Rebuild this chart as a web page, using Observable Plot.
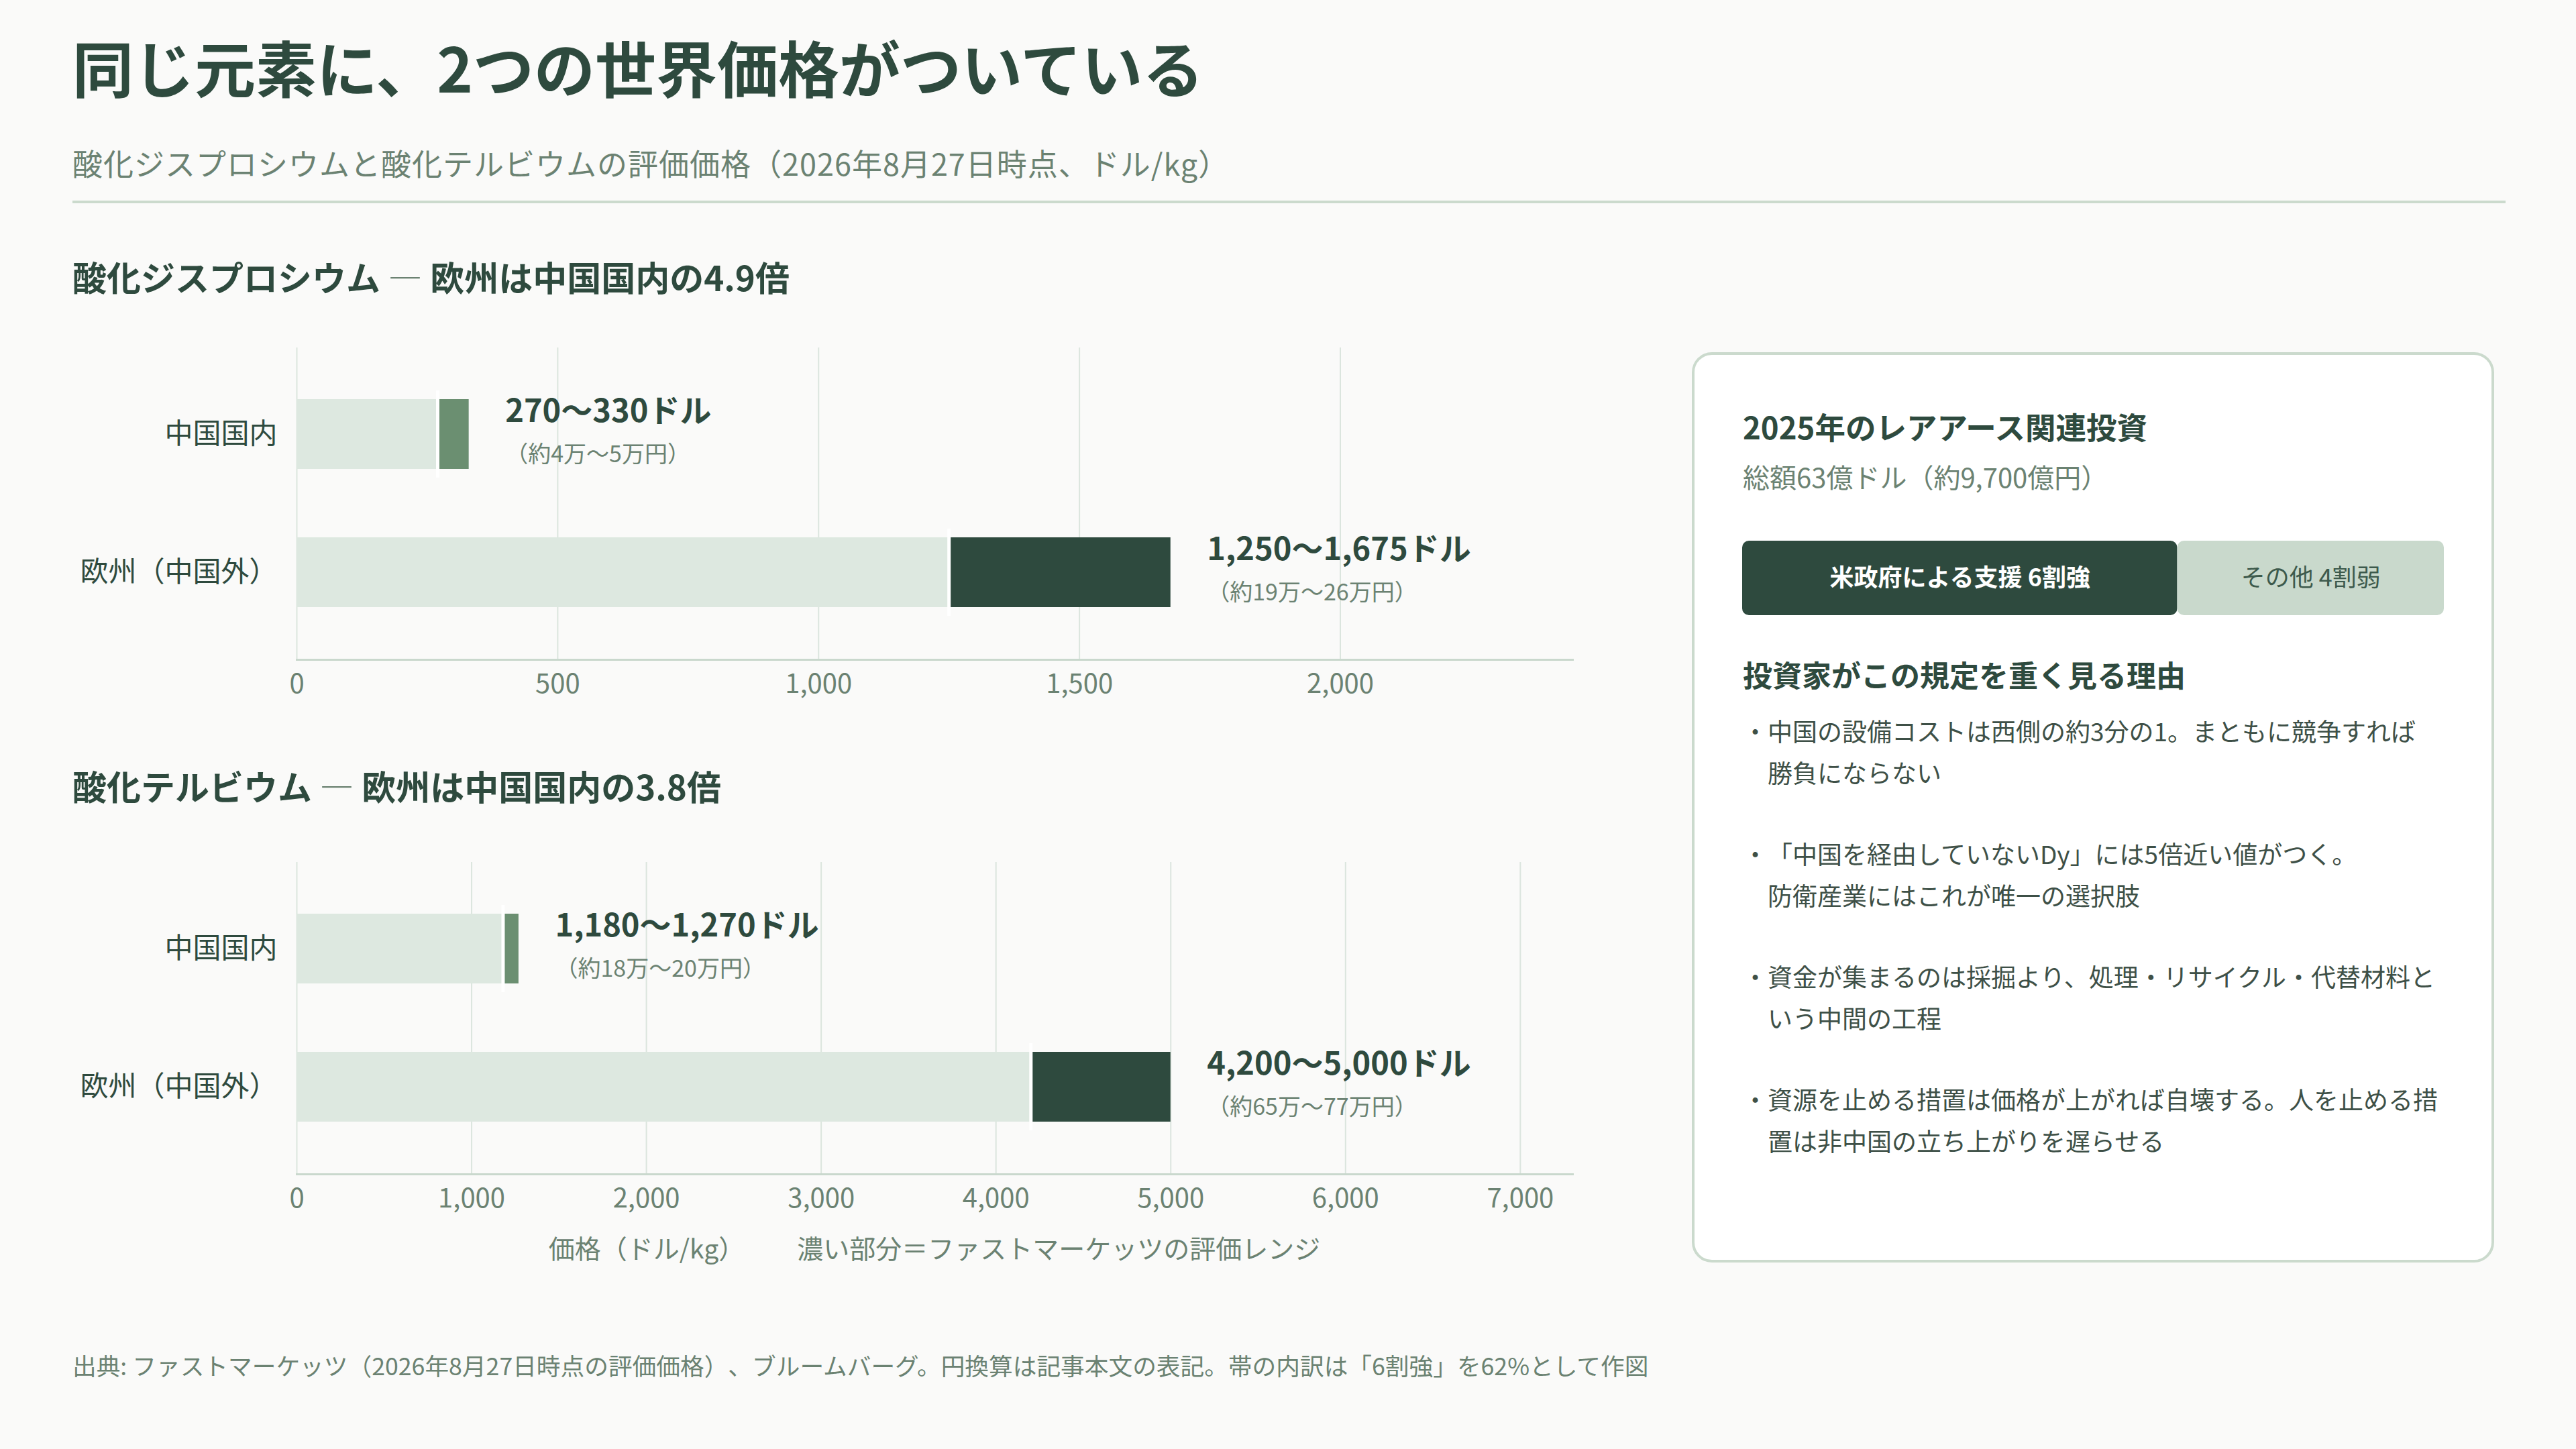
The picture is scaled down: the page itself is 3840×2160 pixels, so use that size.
<!DOCTYPE html>
<html lang="ja">
<head>
<meta charset="utf-8">
<script src="https://cdn.jsdelivr.net/npm/d3@7"></script>
<script src="https://cdn.jsdelivr.net/npm/@observablehq/plot@0.6"></script>
<style>
  html, body { margin: 0; padding: 0; }
  body { width: 3840px; height: 2160px; background: #fafaf9; position: relative; overflow: hidden;
         font-family: "Noto Sans CJK JP", "Noto Sans", sans-serif; color: #2e4a3e; text-spacing-trim: space-all; }
  .abs { position: absolute; line-height: 1; white-space: nowrap; }
  #title { left: 108px; top: 53px; font-size: 91px; font-weight: 700; color: #2e4a3e; }
  #subtitle { left: 108px; top: 220px; font-size: 45px; letter-spacing: 1px; color: #6b8272; }
  #rule { position: absolute; left: 108px; top: 299px; width: 3627px; height: 4px; background: #cbdacd; }
  .sec { font-size: 51px; font-weight: 700; color: #2e4a3e; left: 108px; }
  .sec .dash { font-weight: 400; color: #6b8272; }
  #sec1 { top: 387px; }
  #sec2 { top: 1146px; }
  #chart1 { position: absolute; left: 108px; top: 500px; }
  #chart2 { position: absolute; left: 108px; top: 1267px; }
  #xcap { left: 1393px; top: 1840px; transform: translateX(-50%); font-size: 39px; color: #6b8272; }
  #footer { left: 108px; top: 2017px; font-size: 35.7px; color: #6b8272; }
  #panel { position: absolute; left: 2522px; top: 525px; width: 1196px; height: 1357px; box-sizing: border-box;
           border: 4px solid #cbdacd; border-radius: 30px; background: #ffffff; }
  #ptitle { left: 2598px; top: 613px; font-size: 45.5px; font-weight: 700; color: #2e4a3e; }
  #psub { left: 2598px; top: 690px; font-size: 40px; color: #6b8272; }
  #splitbar { position: absolute; left: 2597px; top: 806px; }
  #phead { left: 2598px; top: 983px; font-size: 44px; font-weight: 700; color: #2e4a3e; }
  #bullets { position: absolute; left: 2598px; top: 1058px; width: 1080px; font-size: 37px; line-height: 62px; color: #3e5047; }
  #bullets div { padding-left: 1em; text-indent: -1em; margin-bottom: 59px; white-space: nowrap; }
</style>
</head>
<body>
<script>
// ---- data ----
const regions = ["中国国内", "欧州（中国外）"];
const dyLow = [270, 1250];
const dyHigh = [330, 1675];
const dyYen = ["（約4万〜5万円）", "（約19万〜26万円）"];
const tbLow = [1180, 4200];
const tbHigh = [1270, 5000];
const tbYen = ["（約18万〜20万円）", "（約65万〜77万円）"];
const dyTicks = [0, 500, 1000, 1500, 2000];
const tbTicks = [0, 1000, 2000, 3000, 4000, 5000, 6000, 7000];
const investLabels = ["米政府による支援 6割強", "その他 4割弱"];
const investShares = [62, 38];
const bulletLines = [
  ["・中国の設備コストは西側の約3分の1。まともに競争すれば", "勝負にならない"],
  ["・「中国を経由していないDy」には5倍近い値がつく。", "防衛産業にはこれが唯一の選択肢"],
  ["・資金が集まるのは採掘より、処理・リサイクル・代替材料と", "いう中間の工程"],
  ["・資源を止める措置は価格が上がれば自壊する。人を止める措", "置は非中国の立ち上がりを遅らせる"]
];

const FONT = '"Noto Sans CJK JP", "Noto Sans", sans-serif';
const DARK = "#2e4a3e", MID = "#6b8f71", LIGHT = "#dde8e0", GRAY = "#6b8272";
const fmt = d3.format(",");

function el(tag, attrs, html) {
  const e = document.createElement(tag);
  Object.assign(e, attrs);
  if (html != null) e.innerHTML = html;
  document.body.appendChild(e);
  return e;
}

el("div", {id: "title", className: "abs"}, "同じ元素に、2つの世界価格がついている");
el("div", {id: "subtitle", className: "abs"}, "酸化ジスプロシウムと酸化テルビウムの評価価格（2026年8月27日時点、ドル/kg）");
el("div", {id: "rule"});
el("div", {id: "sec1", className: "abs sec"}, "酸化ジスプロシウム <span class='dash'>—</span> 欧州は中国国内の4.9倍");
el("div", {id: "sec2", className: "abs sec"}, "酸化テルビウム <span class='dash'>—</span> 欧州は中国国内の3.8倍");

function priceChart(low, high, yen, ticks) {
  const data = regions.map((r, i) => ({region: r, low: low[i], high: high[i], yen: yen[i]}));
  const xmax = d3.max(high) * 1.46;
  return Plot.plot({
    width: 2246, height: 543,
    marginLeft: 334, marginRight: 10, marginTop: 18, marginBottom: 60,
    style: {fontFamily: FONT, fontSize: "40px", background: "transparent", overflow: "visible"},
    x: {domain: [0, xmax]},
    y: {domain: regions, paddingInner: 0.495, paddingOuter: 0.376},
    color: {domain: regions, range: [MID, DARK]},
    marks: [
      Plot.gridX(ticks, {stroke: "#dbe5de", strokeOpacity: 1, strokeWidth: 2}),
      Plot.frame({anchor: "bottom", stroke: "#c9d8cd", strokeWidth: 3}),
      Plot.axisX(ticks, {tickSize: 0, tickPadding: 21, tickFormat: fmt, fill: GRAY, label: null, fontSize: 40}),
      Plot.axisY({tickSize: 0, tickPadding: 29, fill: DARK, label: null, fontSize: 42}),
      Plot.barX(data, {x1: 0, x2: "low", y: "region", fill: LIGHT}),
      Plot.barX(data, {x1: "low", x2: "high", y: "region", fill: "region"}),
      Plot.tickX(data, {x: "low", y: "region", stroke: "#ffffff", strokeWidth: 5, insetTop: -13, insetBottom: -13}),
      Plot.text(data, {x: "high", y: "region", text: d => `${fmt(d.low)}〜${fmt(d.high)}ドル`, dx: 54, dy: -34,
        textAnchor: "start", fontWeight: 700, fontSize: 47, fill: DARK}),
      Plot.text(data, {x: "high", y: "region", text: "yen", dx: 54, dy: 31,
        textAnchor: "start", fontSize: 34, fill: GRAY})
    ]
  });
}

const c1 = el("div", {id: "chart1"});
c1.appendChild(priceChart(dyLow, dyHigh, dyYen, dyTicks));
const c2 = el("div", {id: "chart2"});
c2.appendChild(priceChart(tbLow, tbHigh, tbYen, tbTicks));

el("div", {id: "xcap", className: "abs"}, "価格（ドル/kg）　　濃い部分＝ファストマーケッツの評価レンジ");
el("div", {id: "footer", className: "abs"}, "出典: ファストマーケッツ（2026年8月27日時点の評価価格）、ブルームバーグ。円換算は記事本文の表記。帯の内訳は「6割強」を62%として作図");

// ---- right panel ----
el("div", {id: "panel"});
el("div", {id: "ptitle", className: "abs"}, "2025年のレアアース関連投資");
el("div", {id: "psub", className: "abs"}, "総額63億ドル（約9,700億円）");

const invest = investLabels.map((l, i) => ({label: l, share: investShares[i], idx: i}));
const barFill = ["#2e4a3e", "#c9d9cc"];
const sb = el("div", {id: "splitbar"});
sb.appendChild(Plot.plot({
  width: 1046, height: 111, margin: 0,
  style: {fontFamily: FONT, background: "transparent", overflow: "visible"},
  x: {domain: [0, d3.sum(investShares)], axis: null},
  color: {type: "identity"},
  marks: [
    Plot.barX(invest, Plot.stackX({x: "share", fill: d => barFill[d.idx], rx: 10})),
    Plot.text(invest, Plot.stackX({x: "share", text: d => d.idx === 0 ? d.label : "", fill: "#ffffff", fontSize: 36, fontWeight: 700})),
    Plot.text(invest, Plot.stackX({x: "share", text: d => d.idx === 1 ? d.label : "", fill: "#3d5a4c", fontSize: 36, fontWeight: 400}))
  ]
}));

el("div", {id: "phead", className: "abs"}, "投資家がこの規定を重く見る理由");
const bl = el("div", {id: "bullets"});
bl.innerHTML = bulletLines.map(lines => `<div>${lines.join("<br>")}</div>`).join("");
</script>
</body>
</html>
